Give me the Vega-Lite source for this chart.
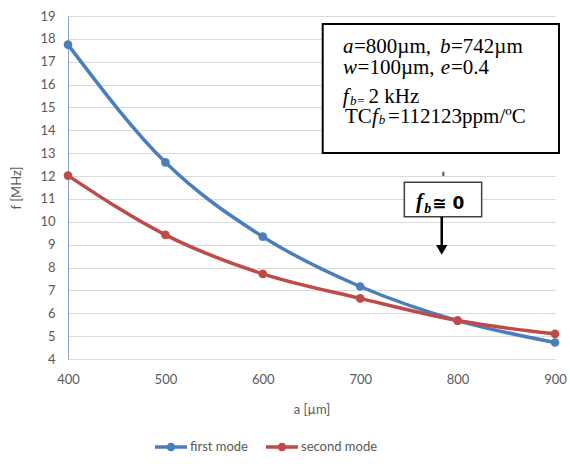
{
  "$schema": "https://vega.github.io/schema/vega-lite/v6.json",
  "autosize": {"type": "none"},
  "width": 487,
  "height": 343,
  "padding": {"left": 68, "top": 16, "right": 15, "bottom": 108},
  "background": "white",
  "config": {
    "view": {"stroke": null},
    "axis": {"labelFont": "Lato", "titleFont": "Lato", "labelColor": "#595959", "titleColor": "#595959", "labelFontSize": 13, "titleFontSize": 13, "titleFontWeight": "normal", "gridColor": "#d9d9d9", "ticks": false, "labelFlush": false}
  },
  "datasets": {
    "series": [
      {"a": 400, "f": 17.75, "series": "first mode"},
      {"a": 500, "f": 12.6, "series": "first mode"},
      {"a": 600, "f": 9.35, "series": "first mode"},
      {"a": 700, "f": 7.17, "series": "first mode"},
      {"a": 800, "f": 5.68, "series": "first mode"},
      {"a": 900, "f": 4.72, "series": "first mode"},
      {"a": 400, "f": 12.02, "series": "second mode"},
      {"a": 500, "f": 9.43, "series": "second mode"},
      {"a": 600, "f": 7.72, "series": "second mode"},
      {"a": 700, "f": 6.65, "series": "second mode"},
      {"a": 800, "f": 5.68, "series": "second mode"},
      {"a": 900, "f": 5.1, "series": "second mode"}
    ],
    "box1": [{"a": 661.5, "a2": 904.1, "f": 18.65, "f2": 13.01}],
    "box2": [{"a": 745.3, "a2": 824.7, "f": 11.73, "f2": 10.22}],
    "roman": [
      {"a": 693.6, "f": 17.37, "t": "=800µm,"},
      {"a": 793.2, "f": 17.37, "t": "=742µm"},
      {"a": 697.3, "f": 16.45, "t": "=100µm,"},
      {"a": 793.2, "f": 16.45, "t": "=0.4"},
      {"a": 708.5, "f": 15.18, "t": "2 kHz"},
      {"a": 684.4, "f": 14.33, "t": "TC"},
      {"a": 728.6, "f": 14.33, "t": "=112123ppm/ºC"}
    ],
    "italic": [
      {"a": 682.3, "f": 17.37, "t": "a"},
      {"a": 781.9, "f": 17.37, "t": "b"},
      {"a": 682.3, "f": 16.45, "t": "w"},
      {"a": 782.6, "f": 16.45, "t": "e"},
      {"a": 682.0, "f": 15.18, "t": "f"},
      {"a": 712.1, "f": 14.33, "t": "f"}
    ],
    "italicSub": [
      {"a": 689.5, "f": 15.11, "t": "b"},
      {"a": 719.1, "f": 14.26, "t": "b"}
    ],
    "romanSub": [
      {"a": 697.0, "f": 15.11, "t": "="}
    ],
    "fbItalic": [{"a": 757.3, "f": 10.59, "t": "f"}],
    "fbSub": [{"a": 765.7, "f": 10.37, "t": "b"}],
    "fbSans": [{"a": 774.0, "f": 10.56, "t": "≅ 0"}],
    "arrow": [{"a": 783.7, "f": 10.22, "f2": 8.95}],
    "arrowHead": [{"a": 783.7, "f": 8.77}],
    "tick": [{"a": 785.3, "f": 12.19, "f2": 12.0}]
  },
  "encoding": {
    "x": {
      "field": "a", "type": "quantitative",
      "scale": {"domain": [400, 900], "nice": false, "zero": false},
      "axis": {"title": "a [µm]", "values": [400, 500, 600, 700, 800, 900], "grid": false, "domain": false, "labelPadding": 14, "titlePadding": 17}
    },
    "y": {
      "field": "f", "type": "quantitative",
      "scale": {"domain": [4, 19], "nice": false, "zero": false},
      "axis": {"title": "f [MHz]", "values": [4,5,6,7,8,9,10,11,12,13,14,15,16,17,18,19], "domainColor": "#8aa2c4", "domainWidth": 1, "labelPadding": 13, "titlePadding": 16}
    }
  },
  "layer": [
    {
      "data": {"name": "series"},
      "mark": {"type": "line", "interpolate": "monotone", "strokeWidth": 3.5},
      "encoding": {
        "color": {
          "field": "series", "type": "nominal",
          "scale": {"domain": ["first mode", "second mode"], "range": ["#4a7ebb", "#be4b48"]},
          "legend": {
            "title": null, "orient": "none", "direction": "horizontal",
            "legendX": 87, "legendY": 415,
            "symbolType": "M-1,-0.11L1,-0.11L1,0.11L-1,0.11Z M0.27,0A0.27,0.27 0 1,1 -0.27,0A0.27,0.27 0 1,1 0.27,0Z",
            "symbolSize": 1024, "symbolStrokeWidth": 0,
            "labelFont": "Lato", "labelFontSize": 13, "labelColor": "#595959", "labelOffset": 3,
            "columnPadding": 18,
            "encode": {"symbols": {"update": {"fill": {"scale": "color", "field": "value"}, "fillOpacity": {"value": 1}, "strokeWidth": {"value": 0}}}}
          }
        }
      }
    },
    {
      "data": {"name": "series"},
      "mark": {"type": "point", "filled": true, "size": 75, "opacity": 1},
      "encoding": {"color": {"field": "series", "type": "nominal", "legend": null}}
    },
    {
      "data": {"name": "box1"},
      "mark": {"type": "rect", "fill": "white", "stroke": "black", "strokeWidth": 2},
      "encoding": {"x2": {"field": "a2"}, "y2": {"field": "f2"}}
    },
    {
      "data": {"name": "box2"},
      "mark": {"type": "rect", "fill": "white", "stroke": "#404040", "strokeWidth": 1.5},
      "encoding": {"x2": {"field": "a2"}, "y2": {"field": "f2"}}
    },
    {
      "data": {"name": "roman"},
      "mark": {"type": "text", "font": "Liberation Serif", "fontSize": 21, "align": "left", "baseline": "alphabetic", "color": "black"},
      "encoding": {"text": {"field": "t"}}
    },
    {
      "data": {"name": "italic"},
      "mark": {"type": "text", "font": "Liberation Serif", "fontStyle": "italic", "fontSize": 21, "align": "left", "baseline": "alphabetic", "color": "black"},
      "encoding": {"text": {"field": "t"}}
    },
    {
      "data": {"name": "italicSub"},
      "mark": {"type": "text", "font": "Liberation Serif", "fontStyle": "italic", "fontSize": 13, "align": "left", "baseline": "alphabetic", "color": "black"},
      "encoding": {"text": {"field": "t"}}
    },
    {
      "data": {"name": "romanSub"},
      "mark": {"type": "text", "font": "Liberation Serif", "fontSize": 13, "align": "left", "baseline": "alphabetic", "color": "black"},
      "encoding": {"text": {"field": "t"}}
    },
    {
      "data": {"name": "fbItalic"},
      "mark": {"type": "text", "font": "Liberation Serif", "fontStyle": "italic", "fontWeight": "bold", "fontSize": 21, "align": "left", "baseline": "alphabetic", "color": "black"},
      "encoding": {"text": {"field": "t"}}
    },
    {
      "data": {"name": "fbSub"},
      "mark": {"type": "text", "font": "Liberation Serif", "fontStyle": "italic", "fontWeight": "bold", "fontSize": 14, "align": "left", "baseline": "alphabetic", "color": "black"},
      "encoding": {"text": {"field": "t"}}
    },
    {
      "data": {"name": "fbSans"},
      "mark": {"type": "text", "font": "DejaVu Sans", "fontWeight": "bold", "fontSize": 17, "align": "left", "baseline": "alphabetic", "color": "black"},
      "encoding": {"text": {"field": "t"}}
    },
    {
      "data": {"name": "arrow"},
      "mark": {"type": "rule", "color": "black", "strokeWidth": 2.5},
      "encoding": {"y2": {"field": "f2"}}
    },
    {
      "data": {"name": "arrowHead"},
      "mark": {"type": "point", "shape": "triangle-down", "filled": true, "color": "black", "size": 130, "opacity": 1},
      "encoding": {}
    },
    {
      "data": {"name": "tick"},
      "mark": {"type": "rule", "color": "#555555", "strokeWidth": 2},
      "encoding": {"y2": {"field": "f2"}}
    }
  ]
}
